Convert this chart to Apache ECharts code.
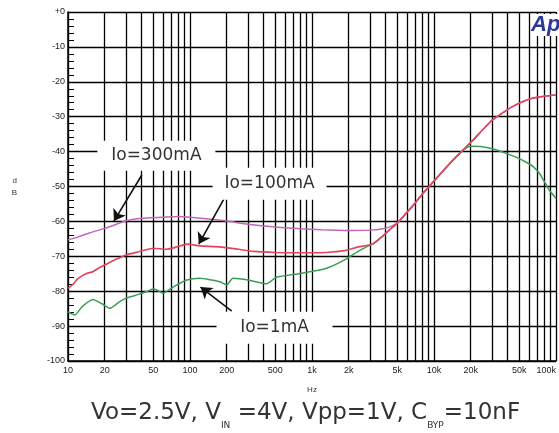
<!DOCTYPE html>
<html><head><meta charset="utf-8">
<script src="https://cdn.jsdelivr.net/npm/echarts@6/dist/echarts.min.js"></script>
<style>html,body{margin:0;padding:0;background:#fff}#c{width:559px;height:433px}</style>
</head><body><div id="c"></div>
<script>
// ---------- DATA ----------
// shared high-frequency part (all curves overlap)
const sharedFreq = [3200, 3800, 4300, 5000, 5900, 6900, 8100, 9900, 12400, 15200, 20900, 25000, 30000, 36500, 44000, 53000, 64000, 82000, 100000];
const sharedDb   = [-66.3, -64.2, -62.5, -60.5, -57.7, -55, -52, -48.6, -44.8, -41.5, -36.7, -33.8, -31, -28.9, -27.1, -25.7, -24.7, -24.1, -23.8];

// Io = 300mA
const freq300 = [10, 12, 15, 20, 25, 30, 40, 60, 80, 100, 150, 200, 300, 500, 800, 1200, 2000, 3000, 3800, 4400, 5000];
const db300   = [-65.3, -64.5, -63.3, -62, -60.8, -59.8, -59.1, -58.8, -58.6, -58.8, -59.4, -59.9, -60.8, -61.6, -62.1, -62.4, -62.6, -62.5, -62.1, -61.5, -60.5];

// Io = 100mA
const freq100 = [10, 11, 12, 14, 16, 18, 20, 25, 30, 38, 50, 64, 80, 94, 120, 176, 250, 330, 500, 800, 1300, 1900, 2400, 2800];
const db100   = [-79.2, -78, -76.5, -75, -74.4, -73.3, -72.5, -70.8, -69.6, -68.7, -67.7, -68, -67.2, -66.5, -67, -67.3, -68, -68.6, -68.9, -69, -68.9, -68.3, -67.3, -66.9];

// Io = 1mA
const freq1Low = [10, 11.4, 13, 16, 19, 22, 26, 30, 35, 40, 45, 50, 55, 60, 70, 78, 94, 120, 150, 176, 200, 225, 300, 424, 510, 800, 1300, 1900, 2400, 2800];
const db1Low   = [-85.9, -86.8, -84.5, -82.4, -83.6, -84.9, -83.2, -82, -81.3, -80.6, -80, -79.3, -79.9, -80.6, -79.2, -78.2, -76.8, -76.3, -76.8, -77.3, -78.2, -76.3, -76.8, -77.9, -76, -74.9, -73.5, -70.8, -68.5, -67.3];
const freq1High = [17500, 20000, 25000, 30000, 39000, 47000, 56000, 65000, 73000, 80000, 88000, 100000];
const db1High   = [-39.5, -38.5, -38.6, -39.2, -40.5, -41.6, -42.9, -44.3, -46.2, -48.5, -51, -53.4];

// axis ticks
const xGridValues = [10,20,30,40,50,60,70,80,90,100,200,300,400,500,600,700,800,900,1000,2000,3000,4000,5000,6000,7000,8000,9000,10000,20000,30000,40000,50000,60000,70000,80000,90000,100000];
const xTickValues = [10, 20, 50, 100, 200, 500, 1000, 2000, 5000, 10000, 20000, 50000, 100000];
const xTickLabels = ['10', '20', '50', '100', '200', '500', '1k', '2k', '5k', '10k', '20k', '50k', '100k'];

// annotations (data-space anchors)
const annLabels = ['Io=300mA', 'Io=100mA', 'Io=1mA'];
const annFreq   = [53, 449, 493];
const annDb     = [-41.2, -49.2, -90.5];
const arrowFromFreq = [40.3, 196, 220];
const arrowFromDb   = [-46.7, -52.7, -85.7];
const arrowToFreq   = [23.8, 118, 122];
const arrowToDb     = [-59.9, -66.5, -78.8];

// ---------- BUILD ----------
function pairs(f, d) { return f.map((v, i) => [v, d[i]]); }
const s300 = pairs(freq300, db300).concat(pairs(sharedFreq.slice(4), sharedDb.slice(4)));
const s100 = pairs(freq100, db100).concat(pairs(sharedFreq, sharedDb));
const s1 = pairs(freq1Low, db1Low).concat(pairs(sharedFreq.slice(0, 10), sharedDb.slice(0, 10))).concat(pairs(freq1High, db1High));

const labelMap = {};
xTickValues.forEach((v, i) => labelMap[v] = xTickLabels[i]);

const boxSizes = [[118, 30], [114, 32], [116, 32]];

const chart = echarts.init(document.getElementById('c'), null, { renderer: 'canvas' });
chart.setOption({
  animation: false,
  backgroundColor: '#fff',
  title: {
    left: 91, top: 396, padding: 0,
    text: '{a|Vo=2.5V, V}{s|IN}{a| =4V, Vpp=1V, C}{s|BYP}{a|=10nF}',
    textStyle: {
      fontWeight: 'normal',
      rich: {
        a: { fontSize: 23, fontWeight: 'normal', fontFamily: 'DejaVu Sans', color: '#333', lineHeight: 34 },
        s: { fontSize: 9, fontWeight: 'normal', fontFamily: 'DejaVu Sans', color: '#333', lineHeight: 10, verticalAlign: 'bottom' }
      }
    }
  },
  graphic: [{
    type: 'text', left: 531, top: 14, z: 100,
    style: { text: 'Ap', font: 'italic bold 22px "Liberation Sans"', fill: '#2b3a97', backgroundColor: '#fff' }
  }],
  grid: { left: 68, right: 2, top: 12, bottom: 72, containLabel: false },
  xAxis: {
    type: 'log', logBase: 10, min: 10, max: 100000,
    name: 'Hz', nameLocation: 'middle', nameGap: 25,
    nameTextStyle: { fontSize: 8, color: '#333', fontFamily: 'Liberation Sans' },
    axisLine: { show: true, onZero: false, lineStyle: { color: '#000', width: 1.5 } },
    axisTick: { show: false, customValues: xGridValues },
    axisLabel: {
      customValues: xTickValues, fontSize: 9, color: '#222', margin: 5, fontFamily: 'Liberation Sans',
      alignMaxLabel: 'right',
      formatter: v => labelMap[Math.round(v)] || ''
    },
    splitLine: { show: true, lineStyle: { color: '#000', width: 1.3 } },
    minorTick: { show: false }, minorSplitLine: { show: false }
  },
  yAxis: {
    type: 'value', min: -100, max: 0, interval: 10,
    name: 'd\nB', nameLocation: 'middle', nameRotate: 0, nameGap: 51,
    nameTextStyle: { fontSize: 8, lineHeight: 12, color: '#333', fontFamily: 'Liberation Sans' },
    axisLine: { show: true, lineStyle: { color: '#000', width: 1.5 } },
    axisTick: { show: true, inside: true, length: 6, lineStyle: { color: '#000' } },
    minorTick: { show: true, splitNumber: 5, length: 6, lineStyle: { color: '#000', width: 1 } },
    axisLabel: { fontSize: 9, color: '#222', margin: 3, fontFamily: 'Liberation Sans', formatter: v => v === 0 ? '+0' : String(v) },
    splitLine: { show: true, lineStyle: { color: '#000', width: 1.3 } }
  },
  series: [
    { name: 'Io=1mA', type: 'line', data: s1, symbol: 'none', smooth: 0.2, lineStyle: { color: '#3a9d55', width: 1.5 }, z: 2 },
    { name: 'Io=300mA', type: 'line', data: s300, symbol: 'none', smooth: 0.2, lineStyle: { color: '#c466b6', width: 1.5 }, z: 3 },
    { name: 'Io=100mA', type: 'line', data: s100, symbol: 'none', smooth: 0.2, lineStyle: { color: '#e4445a', width: 1.6 }, z: 4 },
    {
      name: 'annotations', type: 'line', data: [], z: 10, silent: true,
      markPoint: {
        silent: true,
        data: annLabels.map((t, i) => ({
          coord: [annFreq[i], annDb[i]], symbol: 'rect', symbolSize: boxSizes[i],
          itemStyle: { color: '#fff' },
          label: { show: true, position: 'inside', formatter: t, color: '#333', fontSize: 17, fontFamily: 'DejaVu Sans' }
        }))
      },
      markLine: {
        silent: true, symbol: ['none', 'arrow'], symbolSize: 11,
        itemStyle: { color: '#111' },
        lineStyle: { color: '#111', width: 1.6, type: 'solid' },
        label: { show: false },
        emphasis: { disabled: true },
        data: annLabels.map((t, i) => [
          { coord: [arrowFromFreq[i], arrowFromDb[i]] },
          { coord: [arrowToFreq[i], arrowToDb[i]] }
        ])
      }
    }
  ]
});
</script></body></html>
